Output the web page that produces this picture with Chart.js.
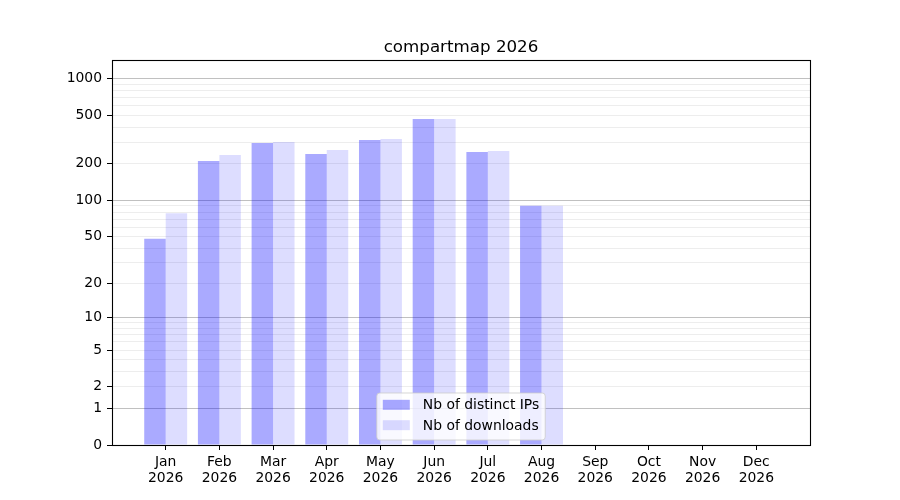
<!DOCTYPE html>
<html><head><meta charset="utf-8">
<script src="https://cdn.jsdelivr.net/npm/chart.js@4.4.1/dist/chart.umd.min.js"></script>
<style>html,body{margin:0;padding:0;background:#fff}#wrap{width:900px;height:500px}</style>
</head><body>
<div id="wrap"><canvas id="c" width="900" height="500"></canvas></div>
<script>
const months = ['Jan','Feb','Mar','Apr','May','Jun','Jul','Aug','Sep','Oct','Nov','Dec'];
const year = '2026';
const title = 'compartmap 2026';
const seriesLabels = ['Nb of distinct IPs', 'Nb of downloads'];
const distinctIPs = [48, 211, 297, 241, 314, 467, 250, 90, 0, 0, 0, 0];
const downloads   = [78, 236, 302, 260, 320, 467, 255, 90, 0, 0, 0, 0];
const yTickLabels = [0, 1, 2, 5, 10, 20, 50, 100, 200, 500, 1000];
const yMajorGrid  = [0, 1, 10, 100, 1000];
const yMinorGrid  = [2, 3, 4, 5, 6, 7, 8, 9, 20, 30, 40, 50, 60, 70, 80, 90, 200, 300, 400, 500, 600, 700, 800, 900];
const yTopValue = 1424;

const seriesColors = ['rgba(0,0,255,0.333)', 'rgba(0,0,255,0.133)'];
const FONT = '"DejaVu Sans", "Liberation Sans", sans-serif';
const tf = v => Math.log10(1 + v);

const yGridValues = [...yMajorGrid, ...yMinorGrid].sort((a, b) => a - b);

const framePlugin = {
  id: 'frame',
  afterDraw(chart) {
    const { ctx, chartArea: a } = chart;
    ctx.save();
    ctx.strokeStyle = '#000';
    ctx.lineWidth = 1.1;
    ctx.strokeRect(Math.round(a.left) + 0.5, Math.round(a.top) + 0.5, Math.round(a.right) - Math.round(a.left), Math.round(a.bottom) - Math.round(a.top));
    ctx.restore();
  }
};

const titlePlugin = {
  id: 'mtitle',
  afterDraw(chart) {
    const { ctx, chartArea: a } = chart;
    ctx.save();
    ctx.font = '16.7px ' + FONT;
    ctx.fillStyle = '#000';
    ctx.textAlign = 'center';
    ctx.textBaseline = 'alphabetic';
    ctx.fillText(title, (a.left + a.right) / 2, 52);
    ctx.restore();
  }
};

const legendPlugin = {
  id: 'innerLegend',
  afterDatasetsDraw(chart) {
    const { ctx, chartArea: a } = chart;
    const ds = chart.data.datasets;
    ctx.save();
    ctx.font = '13.9px ' + FONT;
    const tw = Math.max(...ds.map(d => ctx.measureText(d.label).width));
    const padL = 6, patchW = 27, gap = 13, padR = 6, h = 47;
    const w = padL + patchW + gap + tw + padR;
    const x0 = (a.left + a.right) / 2 - w / 2;
    const y0 = a.bottom - 5 - h;
    const r = 3;
    ctx.beginPath();
    ctx.moveTo(x0 + r, y0);
    ctx.lineTo(x0 + w - r, y0);
    ctx.quadraticCurveTo(x0 + w, y0, x0 + w, y0 + r);
    ctx.lineTo(x0 + w, y0 + h - r);
    ctx.quadraticCurveTo(x0 + w, y0 + h, x0 + w - r, y0 + h);
    ctx.lineTo(x0 + r, y0 + h);
    ctx.quadraticCurveTo(x0, y0 + h, x0, y0 + h - r);
    ctx.lineTo(x0, y0 + r);
    ctx.quadraticCurveTo(x0, y0, x0 + r, y0);
    ctx.closePath();
    ctx.fillStyle = 'rgba(255,255,255,0.8)';
    ctx.fill();
    ctx.strokeStyle = 'rgba(204,204,204,0.8)';
    ctx.lineWidth = 1;
    ctx.stroke();
    const rows = [11.8, 32.2];
    ds.forEach((d, i) => {
      const cy = y0 + rows[i];
      ctx.fillStyle = d.backgroundColor;
      ctx.fillRect(x0 + padL, cy - 5, patchW, 10);
      ctx.fillStyle = '#000';
      ctx.textAlign = 'left';
      ctx.textBaseline = 'middle';
      ctx.fillText(d.label, x0 + padL + patchW + gap, cy + 1);
    });
    ctx.restore();
  }
};

new Chart(document.getElementById('c'), {
  type: 'bar',
  data: {
    datasets: [
      { label: seriesLabels[0], data: distinctIPs.map((v, i) => ({ x: i + 1, y: tf(v) })), backgroundColor: seriesColors[0], borderWidth: 0 },
      { label: seriesLabels[1], data: downloads.map((v, i) => ({ x: i + 1, y: tf(v) })), backgroundColor: seriesColors[1], borderWidth: 0 }
    ]
  },
  options: {
    responsive: false,
    animation: false,
    devicePixelRatio: 1,
    layout: { padding: { top: 60, right: 90, left: 0, bottom: 0 } },
    datasets: { bar: { categoryPercentage: 0.8, barPercentage: 1.0 } },
    plugins: { legend: { display: false }, title: { display: false }, tooltip: { enabled: false } },
    scales: {
      x: {
        type: 'linear',
        position: 'bottom',
        min: 0,
        max: months.length + 1,
        offset: false,
        afterBuildTicks: s => { s.ticks = months.map((m, i) => ({ value: i + 1 })); },
        afterFit: s => { s.height = 55; },
        grid: { display: true, offset: false, drawOnChartArea: false, drawTicks: true, tickLength: 5, tickColor: '#000', tickWidth: 1 },
        border: { display: false },
        ticks: {
          autoSkip: false,
          maxRotation: 0,
          padding: 4,
          color: '#000',
          font: { family: FONT, size: 13.9, lineHeight: 1.151 },
          callback: (v, i) => [months[i], year]
        }
      },
      y: {
        type: 'linear',
        min: 0,
        max: tf(yTopValue),
        afterBuildTicks: s => { s.ticks = yGridValues.map(v => ({ value: tf(v) })); },
        afterFit: s => { s.width = 112; },
        grid: {
          drawOnChartArea: true,
          drawTicks: true,
          tickLength: 5,
          lineWidth: 1,
          color: ctx => yMajorGrid.includes(yGridValues[ctx.index]) ? 'rgba(176,176,176,0.8)' : 'rgba(220,220,220,0.5)',
          tickColor: ctx => yTickLabels.includes(yGridValues[ctx.index]) ? '#000' : 'rgba(0,0,0,0)'
        },
        border: { display: false },
        ticks: {
          autoSkip: false,
          padding: 5,
          color: '#000',
          font: { family: FONT, size: 13.9 },
          callback: (v, i) => yTickLabels.includes(yGridValues[i]) ? String(yGridValues[i]) : ''
        }
      }
    }
  },
  plugins: [legendPlugin, titlePlugin, framePlugin]
});
</script>
</body></html>
